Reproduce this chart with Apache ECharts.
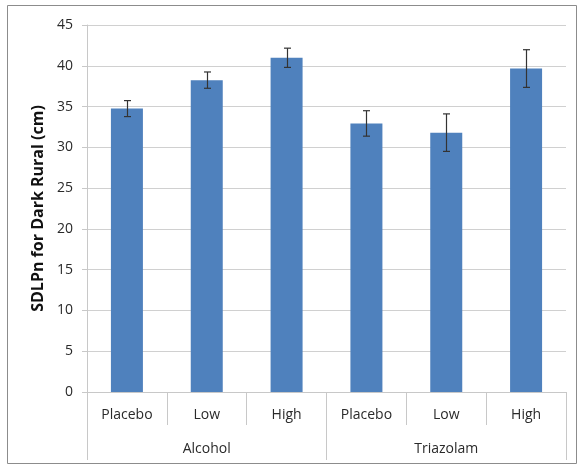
<!DOCTYPE html>
<html>
<head>
<meta charset="utf-8">
<script src="https://cdn.jsdelivr.net/npm/echarts@6/dist/echarts.min.js"></script>
<style>
html,body{margin:0;padding:0;background:#fff;}
#chart{width:579px;height:466px;}
</style>
</head>
<body>
<div id="chart"></div>
<script>
// ---- data ----
var subCategories = ['Placebo', 'Low', 'High', 'Placebo', 'Low', 'High'];
var groupCategories = ['Alcohol', 'Triazolam'];
var meanValues = [34.75, 38.24, 40.98, 32.93, 31.8, 39.66];
var errorHalf = [0.98, 1.0, 1.18, 1.56, 2.3, 2.31];
var yTicks = [0, 5, 10, 15, 20, 25, 30, 35, 40, 45];
var yTitle = 'SDLPn for Dark Rural (cm)';

var errData = meanValues.map(function (v, i) {
  return [i, v - errorHalf[i], v + errorHalf[i]];
});

var font = '"Open Sans", "Noto Sans", sans-serif';
var textColor = '#2a2a2a';
var chart = echarts.init(document.getElementById('chart'), null, {renderer: 'canvas'});
chart.setOption({
  animation: false,
  backgroundColor: '#fff',
  graphic: [{
    type: 'rect',
    shape: {x: 7.5, y: 5.5, width: 569, height: 458},
    style: {fill: 'none', stroke: '#8c8c8c', lineWidth: 1},
    silent: true
  }],
  grid: {left: 87, right: 13, top: 25, bottom: 74},
  xAxis: [{
    type: 'category',
    data: subCategories,
    position: 'bottom',
    axisLine: {show: true, lineStyle: {color: '#c8c8c8', width: 1}},
    axisTick: {show: true, interval: 0, length: 33, lineStyle: {color: '#c8c8c8'}},
    axisLabel: {interval: 0, margin: 16, fontSize: 14, color: textColor, fontFamily: font}
  }, {
    type: 'category',
    data: groupCategories,
    position: 'bottom',
    axisLine: {show: false},
    axisTick: {show: true, interval: 0, length: 68, lineStyle: {color: '#c8c8c8'}},
    axisLabel: {interval: 0, margin: 50, fontSize: 14, color: textColor, fontFamily: font}
  }],
  yAxis: {
    type: 'value',
    min: 0, max: 45, interval: 5,
    axisLine: {show: true, lineStyle: {color: '#c8c8c8'}},
    axisTick: {show: true, length: 5, lineStyle: {color: '#c8c8c8'}},
    axisLabel: {margin: 14, fontSize: 14, color: textColor, fontFamily: font,
      formatter: function (v) { return yTicks.indexOf(v) >= 0 ? String(v) : ''; }},
    splitLine: {show: true, lineStyle: {color: '#d0d0d0', width: 1}},
    name: yTitle,
    nameLocation: 'middle',
    nameRotate: 90,
    nameGap: 29,
    nameTextStyle: {fontSize: 16, fontWeight: 'bold', color: '#111', fontFamily: font}
  },
  series: [{
    type: 'bar',
    data: meanValues,
    barWidth: 32,
    itemStyle: {color: '#4f81bd'},
    xAxisIndex: 0,
    z: 2
  }, {
    type: 'custom',
    xAxisIndex: 0,
    data: errData,
    z: 5,
    renderItem: function (params, api) {
      var x = api.value(0);
      var lo = api.coord([x, api.value(1)]);
      var hi = api.coord([x, api.value(2)]);
      var cx = Math.round(lo[0]) + 0.5;
      var hw = 3.5;
      var st = {stroke: '#333', lineWidth: 1.2};
      return {
        type: 'group',
        children: [
          {type: 'line', shape: {x1: cx, y1: hi[1], x2: cx, y2: lo[1]}, style: st},
          {type: 'line', shape: {x1: cx - hw, y1: hi[1], x2: cx + hw, y2: hi[1]}, style: st},
          {type: 'line', shape: {x1: cx - hw, y1: lo[1], x2: cx + hw, y2: lo[1]}, style: st}
        ]
      };
    }
  }]
});
</script>
</body>
</html>
